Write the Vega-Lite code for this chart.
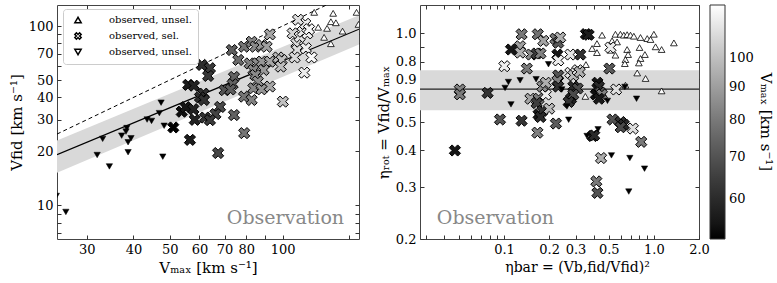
{
  "$schema": "https://vega.github.io/schema/vega-lite/v6.json",
  "autosize": {"type": "none"},
  "padding": {"left": 57, "top": 5, "right": 720, "bottom": 278},
  "background": "white",
  "bounds": "flush",
  "spacing": 61,
  "config": {
    "view": {"stroke": "#444", "strokeWidth": 1},
    "axis": {"labelFont": "DejaVu Serif", "labelFontSize": 13, "labelColor": "black", "titleFont": "DejaVu Serif", "titleFontSize": 15, "titleFontWeight": "normal", "titleColor": "black", "grid": false, "domain": false, "tickColor": "#333", "tickSize": -4, "labelPadding": 8},
    "legend": {"labelFont": "DejaVu Serif", "titleFont": "DejaVu Serif", "titleFontWeight": "normal", "titleColor": "black", "labelColor": "black"}
  },
  "datasets": {
    "lup": [{"vmax":121.5,"vfid":119.2},{"vmax":136.5,"vfid":117.7},{"vmax":157.6,"vfid":119.2},{"vmax":134.6,"vfid":105.7},{"vmax":138.8,"vfid":104.3},{"vmax":124.5,"vfid":98.4},{"vmax":131.5,"vfid":97.1},{"vmax":144.6,"vfid":93.7},{"vmax":129.1,"vfid":86.5},{"vmax":134.6,"vfid":79.7},{"vmax":159.5,"vfid":102.1}],
    "ldown": [{"vmax":24.9,"vfid":11.3},{"vmax":26.4,"vfid":9.2},{"vmax":32.0,"vfid":19.1},{"vmax":33.1,"vfid":23.5},{"vmax":34.5,"vfid":16.5},{"vmax":37.2,"vfid":24.5},{"vmax":38.2,"vfid":25.8},{"vmax":38.4,"vfid":27.0},{"vmax":39.4,"vfid":23.7},{"vmax":38.7,"vfid":22.5},{"vmax":38.7,"vfid":19.8},{"vmax":43.5,"vfid":30.1},{"vmax":44.7,"vfid":29.6},{"vmax":48.3,"vfid":27.8},{"vmax":47.9,"vfid":18.7},{"vmax":47.4,"vfid":37.4},{"vmax":46.9,"vfid":32.7}],
    "lx": [{"vmax":51.1,"vfid":27.2},{"vmax":53.8,"vfid":33.3},{"vmax":55.1,"vfid":35.3},{"vmax":57.8,"vfid":34.4},{"vmax":56.6,"vfid":23.2},{"vmax":58.3,"vfid":30.0},{"vmax":56.0,"vfid":47.0},{"vmax":58.0,"vfid":46.5},{"vmax":61.5,"vfid":42.0},
      {"vmax":60.9,"vfid":60.7},{"vmax":64.0,"vfid":58.2},{"vmax":63.3,"vfid":52.7},{"vmax":73.2,"vfid":73.5},{"vmax":76.2,"vfid":64.7},{"vmax":78.9,"vfid":76.7},{"vmax":82.7,"vfid":81.7},{"vmax":84.6,"vfid":76.7},{"vmax":88.0,"vfid":78.4},{"vmax":90.7,"vfid":76.7},{"vmax":92.5,"vfid":89.8},{"vmax":81.7,"vfid":61.9},{"vmax":85.7,"vfid":61.9},{"vmax":88.0,"vfid":63.3},{"vmax":92.5,"vfid":63.3},{"vmax":97.4,"vfid":66.8},{"vmax":99.5,"vfid":64.7},{"vmax":83.6,"vfid":56.9},{"vmax":89.0,"vfid":56.9},{"vmax":98.9,"vfid":59.4},{"vmax":84.6,"vfid":53.3},{"vmax":85.9,"vfid":49.1},{"vmax":83.6,"vfid":45.0},{"vmax":87.9,"vfid":44.4},{"vmax":92.5,"vfid":46.0},{"vmax":74.2,"vfid":52.0},{"vmax":73.6,"vfid":47.4},{"vmax":70.0,"vfid":43.9},{"vmax":72.6,"vfid":44.3},{"vmax":78.9,"vfid":40.4},{"vmax":82.7,"vfid":38.7},{"vmax":74.2,"vfid":31.9},{"vmax":100.2,"vfid":37.9},{"vmax":60.2,"vfid":40.1},{"vmax":61.7,"vfid":38.7},{"vmax":68.1,"vfid":35.4},{"vmax":66.2,"vfid":32.3},{"vmax":62.1,"vfid":30.9},{"vmax":64.0,"vfid":29.9},{"vmax":106.4,"vfid":91.0},{"vmax":108.9,"vfid":80.0},{"vmax":109.4,"vfid":73.5},{"vmax":111.1,"vfid":87.1},{"vmax":113.2,"vfid":93.0},{"vmax":115.0,"vfid":102.9},{"vmax":116.5,"vfid":91.0},{"vmax":117.7,"vfid":96.0},{"vmax":110.0,"vfid":108.4},{"vmax":115.4,"vfid":75.2},{"vmax":107.7,"vfid":66.8},{"vmax":119.5,"vfid":66.8},{"vmax":114.3,"vfid":55.0},{"vmax":79.0,"vfid":25.3},{"vmax":67.3,"vfid":19.6}],
    "rup": [{"ebar":0.451,"erot":0.987},{"ebar":0.554,"erot":0.994},{"ebar":0.598,"erot":0.994},{"ebar":0.630,"erot":0.987},{"ebar":0.663,"erot":0.991},{"ebar":0.698,"erot":0.987},{"ebar":0.735,"erot":0.979},{"ebar":0.814,"erot":0.969},{"ebar":0.903,"erot":0.961},{"ebar":0.950,"erot":0.954},{"ebar":1.0,"erot":0.994},{"ebar":1.36,"erot":0.929},{"ebar":0.417,"erot":0.924},{"ebar":0.387,"erot":0.889},{"ebar":0.417,"erot":0.861},{"ebar":0.526,"erot":0.944},{"ebar":0.568,"erot":0.936},{"ebar":0.513,"erot":0.877},{"ebar":0.554,"erot":0.844},{"ebar":0.663,"erot":0.882},{"ebar":0.673,"erot":0.848},{"ebar":0.646,"erot":0.815},{"ebar":0.640,"erot":0.790},{"ebar":0.802,"erot":0.896},{"ebar":0.814,"erot":0.822},{"ebar":0.794,"erot":0.794},{"ebar":0.871,"erot":0.848},{"ebar":1.026,"erot":0.901},{"ebar":1.126,"erot":0.882},{"ebar":0.774,"erot":0.734},{"ebar":0.88,"erot":0.703},{"ebar":0.646,"erot":0.667},{"ebar":1.126,"erot":0.638},{"ebar":0.352,"erot":0.784},{"ebar":0.349,"erot":0.611}],
    "rdown": [{"ebar":0.107,"erot":0.684},{"ebar":0.1016,"erot":0.653},{"ebar":0.1113,"erot":0.574},{"ebar":0.128,"erot":0.693},{"ebar":0.1637,"erot":0.699},{"ebar":0.198,"erot":0.786},{"ebar":0.243,"erot":0.645},{"ebar":0.263,"erot":0.565},{"ebar":0.27,"erot":0.509},{"ebar":0.64,"erot":0.658},{"ebar":0.766,"erot":0.60},{"ebar":0.424,"erot":0.472},{"ebar":0.358,"erot":0.448},{"ebar":0.521,"erot":0.385},{"ebar":0.691,"erot":0.377},{"ebar":0.866,"erot":0.347},{"ebar":0.68,"erot":0.29},{"ebar":0.49,"erot":0.59}],
    "rx": [{"ebar":0.0507,"erot":0.645,"vmax":82},{"ebar":0.0507,"erot":0.621,"vmax":80},{"ebar":0.0777,"erot":0.628,"vmax":62},{"ebar":0.1005,"erot":0.774,"vmax":115},{"ebar":0.094,"erot":0.51,"vmax":70},{"ebar":0.1113,"erot":0.882,"vmax":55},{"ebar":0.128,"erot":0.905,"vmax":90},{"ebar":0.128,"erot":0.861,"vmax":95},{"ebar":0.131,"erot":0.994,"vmax":80},{"ebar":0.131,"erot":0.505,"vmax":63},{"ebar":0.142,"erot":0.76,"vmax":80},{"ebar":0.152,"erot":0.848,"vmax":85},{"ebar":0.168,"erot":0.994,"vmax":78},{"ebar":0.165,"erot":0.855,"vmax":65},{"ebar":0.175,"erot":0.855,"vmax":82},{"ebar":0.183,"erot":0.944,"vmax":92},{"ebar":0.15,"erot":0.60,"vmax":92},{"ebar":0.17,"erot":0.60,"vmax":80},{"ebar":0.165,"erot":0.58,"vmax":65},{"ebar":0.19,"erot":0.62,"vmax":115},{"ebar":0.18,"erot":0.66,"vmax":85},{"ebar":0.19,"erot":0.68,"vmax":95},{"ebar":0.17,"erot":0.53,"vmax":56},{"ebar":0.18,"erot":0.545,"vmax":62},{"ebar":0.175,"erot":0.52,"vmax":60},{"ebar":0.2,"erot":0.555,"vmax":98},{"ebar":0.22,"erot":0.96,"vmax":80},{"ebar":0.23,"erot":0.93,"vmax":72},{"ebar":0.237,"erot":0.969,"vmax":95},{"ebar":0.227,"erot":0.848,"vmax":55},{"ebar":0.23,"erot":0.81,"vmax":115},{"ebar":0.277,"erot":0.848,"vmax":112},{"ebar":0.323,"erot":0.848,"vmax":62},{"ebar":0.352,"erot":0.995,"vmax":55},{"ebar":0.367,"erot":0.99,"vmax":57},{"ebar":0.23,"erot":0.72,"vmax":70},{"ebar":0.227,"erot":0.69,"vmax":82},{"ebar":0.277,"erot":0.735,"vmax":112},{"ebar":0.29,"erot":0.72,"vmax":98},{"ebar":0.31,"erot":0.75,"vmax":110},{"ebar":0.32,"erot":0.74,"vmax":95},{"ebar":0.23,"erot":0.66,"vmax":62},{"ebar":0.29,"erot":0.66,"vmax":60},{"ebar":0.31,"erot":0.65,"vmax":68},{"ebar":0.28,"erot":0.60,"vmax":58},{"ebar":0.29,"erot":0.62,"vmax":68},{"ebar":0.27,"erot":0.585,"vmax":62},{"ebar":0.42,"erot":0.68,"vmax":55},{"ebar":0.43,"erot":0.66,"vmax":60},{"ebar":0.41,"erot":0.62,"vmax":54},{"ebar":0.44,"erot":0.63,"vmax":70},{"ebar":0.45,"erot":0.62,"vmax":82},{"ebar":0.43,"erot":0.6,"vmax":56},{"ebar":0.505,"erot":0.76,"vmax":72},{"ebar":0.513,"erot":0.896,"vmax":115},{"ebar":0.56,"erot":0.645,"vmax":110},{"ebar":0.53,"erot":0.51,"vmax":70},{"ebar":0.6,"erot":0.5,"vmax":62},{"ebar":0.63,"erot":0.49,"vmax":60},{"ebar":0.6,"erot":0.48,"vmax":68},{"ebar":0.724,"erot":0.475,"vmax":110},{"ebar":0.823,"erot":0.428,"vmax":80},{"ebar":0.047,"erot":0.4,"vmax":55},{"ebar":0.167,"erot":0.46,"vmax":82},{"ebar":0.222,"erot":0.494,"vmax":72},{"ebar":0.39,"erot":0.448,"vmax":56},{"ebar":0.40,"erot":0.45,"vmax":60},{"ebar":0.444,"erot":0.377,"vmax":95},{"ebar":0.413,"erot":0.314,"vmax":80},{"ebar":0.42,"erot":0.287,"vmax":70}]
  },
  "hconcat": [
    {
      "width": 302,
      "height": 234,
      "resolve": {"axis": {"x": "independent", "y": "independent"}},
      "layer": [
        {
          "data": {"values": [{"vmax": 25, "top": 23.0, "bot": 15.2}, {"vmax": 160, "top": 115, "bot": 79}]},
          "mark": {"type": "area", "color": "#d9d9d9", "opacity": 1, "clip": true},
          "encoding": {
            "x": {"field": "vmax", "type": "quantitative", "scale": {"type": "log", "domain": [25, 160], "nice": false}, "axis": {"values": [30, 40, 50, 60, 70, 80, 90, 100, 150], "labelExpr": "datum.value == 90 || datum.value == 150 ? '' : format(datum.value, 'd')", "title": "Vₘₐₓ [km s⁻¹]", "labelFlush": false}},
            "y": {"field": "top", "type": "quantitative", "scale": {"type": "log", "domain": [6.5, 131], "nice": false}, "axis": {"values": [7, 8, 9, 10, 20, 30, 40, 50, 60, 70, 80, 90, 100], "labelExpr": "indexof([10,20,30,40,50,70,100], datum.value) >= 0 ? format(datum.value, 'd') : ''", "title": "Vfid [km s⁻¹]"}},
            "y2": {"field": "bot"}
          }
        },
        {
          "data": {"values": [{"vmax": 25, "top": 23.0}, {"vmax": 160, "top": 115}]},
          "mark": {"type": "point", "opacity": 0},
          "encoding": {
            "x": {"field": "vmax", "type": "quantitative", "axis": {"orient": "top", "values": [30, 40, 50, 60, 70, 80, 90, 100, 150], "labels": false, "title": null}},
            "y": {"field": "top", "type": "quantitative", "axis": {"orient": "right", "values": [7, 8, 9, 10, 20, 30, 40, 50, 60, 70, 80, 90, 100], "labels": false, "title": null}}
          }
        },
        {
          "data": {"values": [{"vmax": 25, "fit": 19.2}, {"vmax": 160, "fit": 96}]},
          "mark": {"type": "line", "color": "black", "strokeWidth": 1.2, "clip": true},
          "encoding": {"x": {"field": "vmax", "type": "quantitative", "axis": null}, "y": {"field": "fit", "type": "quantitative", "axis": null}}
        },
        {
          "data": {"values": [{"vmax": 25, "one": 25}, {"vmax": 131, "one": 131}]},
          "mark": {"type": "line", "color": "black", "strokeWidth": 1, "strokeDash": [4, 3], "clip": true},
          "encoding": {"x": {"field": "vmax", "type": "quantitative", "axis": null}, "y": {"field": "one", "type": "quantitative", "axis": null}}
        },
        {
          "data": {"name": "lup"},
          "mark": {"type": "point", "filled": true, "fill": "white", "stroke": "black", "strokeWidth": 0.8, "opacity": 1, "size": 45, "clip": true},
          "encoding": {
            "x": {"field": "vmax", "type": "quantitative", "axis": null},
            "y": {"field": "vfid", "type": "quantitative", "axis": null},
            "shape": {"datum": "observed, unsel.", "type": "nominal",
              "scale": {"domain": ["observed, unsel.", "observed, sel.", "observed, unsel. "], "range": ["triangle-up", "M0,-0.5L0.5,-1L1,-0.5L0.5,0L1,0.5L0.5,1L0,0.5L-0.5,1L-1,0.5L-0.5,0L-1,-0.5L-0.5,-1Z", "triangle-down"]},
              "legend": {"orient": "none", "legendX": 6, "legendY": 4, "title": null, "padding": 6, "labelFontSize": 10, "labelOffset": 26, "symbolOffset": 4, "rowPadding": 3, "symbolSize": 40, "strokeColor": "#cccccc", "fillColor": "white", "cornerRadius": 3,
                "encode": {"symbols": {"update": {"fill": {"signal": "datum.index == 1 ? '#707070' : datum.index == 0 ? 'white' : 'black'"}, "size": {"signal": "datum.index == 1 ? 75 : 35"}, "stroke": {"value": "black"}, "strokeWidth": {"value": 0.8}, "opacity": {"value": 1}}}}}
            }
          }
        },
        {
          "data": {"name": "lx"},
          "mark": {"type": "point", "filled": true, "stroke": "black", "strokeWidth": 1, "opacity": 1, "size": 125, "clip": true},
          "encoding": {
            "x": {"field": "vmax", "type": "quantitative", "axis": null},
            "y": {"field": "vfid", "type": "quantitative", "axis": null},
            "shape": {"datum": "observed, sel.", "type": "nominal"},
            "fill": {"field": "vmax", "type": "quantitative", "scale": {"type": "log", "domain": [52, 121], "range": ["#000000", "#ffffff"]}, "legend": null}
          }
        },
        {
          "data": {"name": "ldown"},
          "mark": {"type": "point", "filled": true, "fill": "black", "stroke": "black", "strokeWidth": 0.5, "opacity": 1, "size": 40, "clip": true},
          "encoding": {
            "x": {"field": "vmax", "type": "quantitative", "axis": null},
            "y": {"field": "vfid", "type": "quantitative", "axis": null},
            "shape": {"datum": "observed, unsel. ", "type": "nominal"}
          }
        },
        {
          "data": {"values": [{"vmax": 146, "vfid": 8.55, "label": "Observation"}]},
          "mark": {"type": "text", "align": "right", "baseline": "middle", "font": "DejaVu Serif", "fontSize": 19, "color": "#888888"},
          "encoding": {"x": {"field": "vmax", "type": "quantitative", "axis": null}, "y": {"field": "vfid", "type": "quantitative", "axis": null}, "text": {"field": "label"}}
        }
      ]
    },
    {
      "width": 279,
      "height": 234,
      "resolve": {"axis": {"x": "independent", "y": "independent"}},
      "layer": [
        {
          "data": {"values": [{"lo": 0.548, "hi": 0.75, "xa": 0.1}]},
          "mark": {"type": "rect", "color": "#d9d9d9", "opacity": 1},
          "encoding": {
            "y": {"field": "lo", "type": "quantitative", "scale": {"type": "log", "domain": [0.2, 1.25], "nice": false}, "axis": {"values": [0.2, 0.3, 0.4, 0.5, 0.6, 0.7, 0.8, 0.9, 1.0], "labelExpr": "datum.value > 0.69 && datum.value < 0.71 ? '0.9' : datum.value > 0.89 && datum.value < 0.91 ? '' : format(datum.value, '.1f')", "title": "ηᵣₒₜ = Vfid/Vₘₐₓ"}},
            "y2": {"field": "hi"}
          }
        },
        {
          "data": {"values": [{"lo": 0.548, "xa": 0.1}]},
          "mark": {"type": "point", "opacity": 0},
          "encoding": {
            "x": {"field": "xa", "type": "quantitative", "axis": {"orient": "top", "values": [0.03, 0.04, 0.05, 0.06, 0.07, 0.08, 0.09, 0.1, 0.2, 0.3, 0.4, 0.5, 0.6, 0.7, 0.8, 0.9, 1.0, 2.0], "labels": false, "title": null}},
            "y": {"field": "lo", "type": "quantitative", "axis": {"orient": "right", "values": [0.2, 0.3, 0.4, 0.5, 0.6, 0.7, 0.8, 0.9, 1.0], "labels": false, "title": null}}
          }
        },
        {
          "data": {"values": [{"fit": 0.647}]},
          "mark": {"type": "rule", "color": "#222", "strokeWidth": 1.2},
          "encoding": {"y": {"field": "fit", "type": "quantitative", "axis": null}}
        },
        {
          "data": {"name": "rup"},
          "mark": {"type": "point", "shape": "triangle-up", "filled": true, "fill": "white", "stroke": "black", "strokeWidth": 0.8, "opacity": 1, "size": 45, "clip": true},
          "encoding": {
            "x": {"field": "ebar", "type": "quantitative", "scale": {"type": "log", "domain": [0.0275, 2.0], "nice": false}, "axis": {"values": [0.03, 0.04, 0.05, 0.06, 0.07, 0.08, 0.09, 0.1, 0.2, 0.3, 0.4, 0.5, 0.6, 0.7, 0.8, 0.9, 1.0, 2.0], "labelExpr": "indexof([0.1,0.2,0.3,0.5,1,2], datum.value) >= 0 ? format(datum.value, '.1f') : ''", "title": "ηbar = (Vb,fid/Vfid)²", "titleX": 157, "titleFontSize": 14, "labelFlush": false}},
            "y": {"field": "erot", "type": "quantitative", "axis": null}
          }
        },
        {
          "data": {"name": "rx"},
          "mark": {"type": "point", "shape": "M0,-0.5L0.5,-1L1,-0.5L0.5,0L1,0.5L0.5,1L0,0.5L-0.5,1L-1,0.5L-0.5,0L-1,-0.5L-0.5,-1Z", "filled": true, "stroke": "black", "strokeWidth": 1, "opacity": 1, "size": 125, "clip": true},
          "encoding": {
            "x": {"field": "ebar", "type": "quantitative", "axis": null},
            "y": {"field": "erot", "type": "quantitative", "axis": null},
            "fill": {"field": "vmax", "type": "quantitative", "scale": {"type": "log", "domain": [52, 121], "range": ["#000000", "#ffffff"]},
              "legend": {"orient": "right", "offset": 10, "direction": "vertical", "gradientLength": 234, "gradientThickness": 15, "gradientStrokeColor": "#333", "gradientStrokeWidth": 1, "values": [60, 70, 80, 90, 100], "labelFontSize": 13, "labelOffset": 4, "title": "Vₘₐₓ [km s⁻¹]", "titleOrient": "right", "titleAngle": 90, "titleFontSize": 15, "titlePadding": 4}}
          }
        },
        {
          "data": {"name": "rdown"},
          "mark": {"type": "point", "shape": "triangle-down", "filled": true, "fill": "black", "stroke": "black", "strokeWidth": 0.5, "opacity": 1, "size": 40, "clip": true},
          "encoding": {"x": {"field": "ebar", "type": "quantitative", "axis": null}, "y": {"field": "erot", "type": "quantitative", "axis": null}}
        },
        {
          "data": {"values": [{"ebar": 0.0356, "erot": 0.235, "label": "Observation"}]},
          "mark": {"type": "text", "align": "left", "baseline": "middle", "font": "DejaVu Serif", "fontSize": 19, "color": "#888888"},
          "encoding": {"x": {"field": "ebar", "type": "quantitative", "axis": null}, "y": {"field": "erot", "type": "quantitative", "axis": null}, "text": {"field": "label"}}
        }
      ]
    }
  ],
  "resolve": {"scale": {"fill": "independent", "shape": "independent"}, "legend": {"fill": "independent", "shape": "independent"}}
}
